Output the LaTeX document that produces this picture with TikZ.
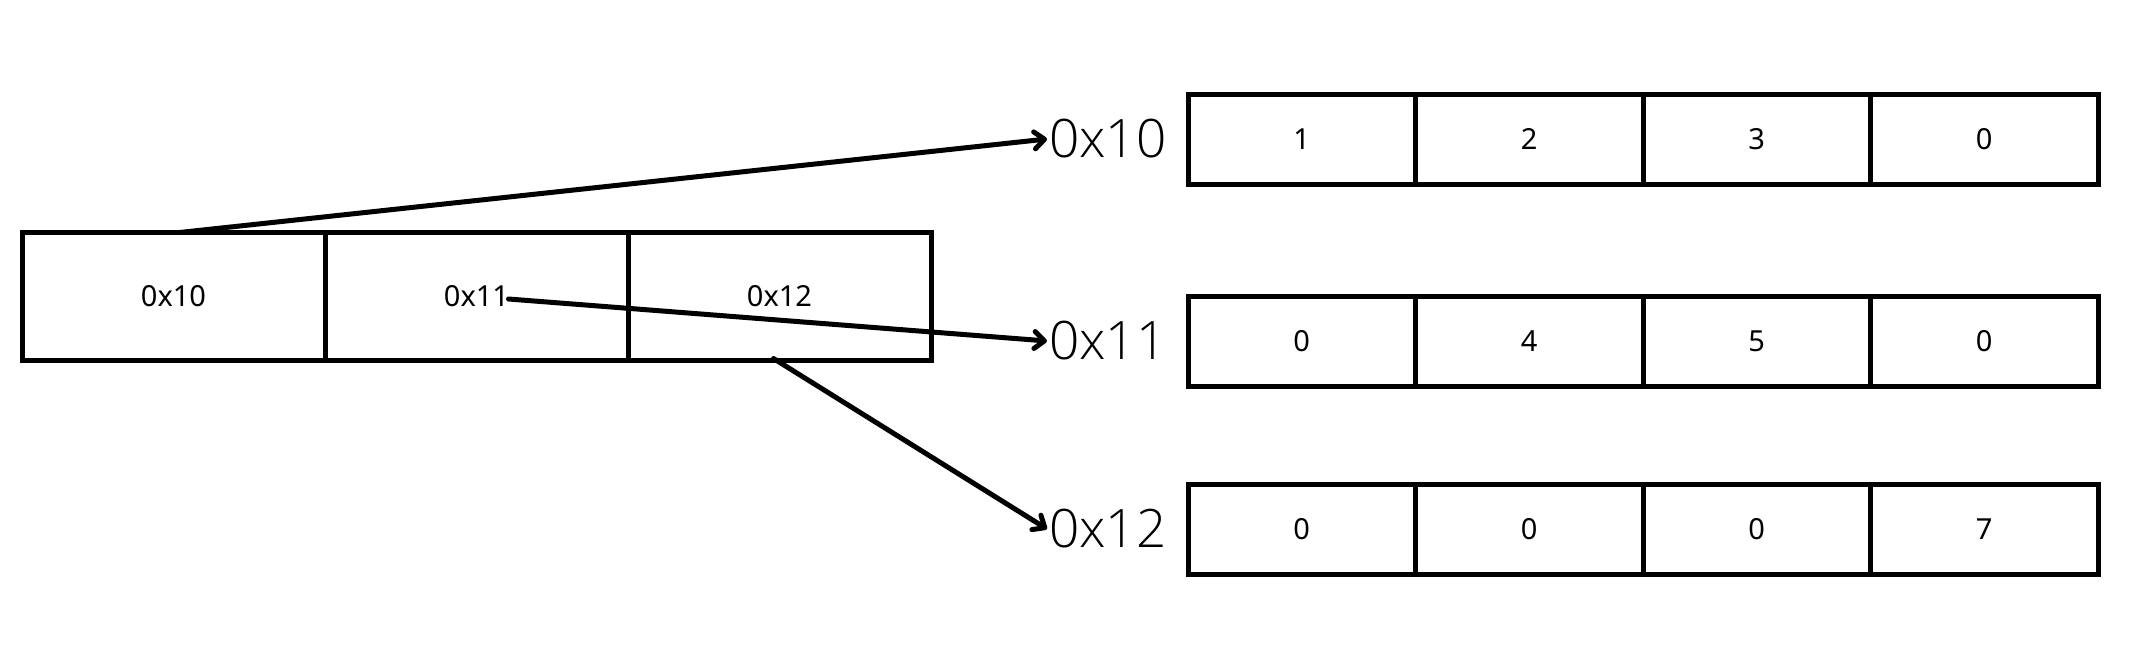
\documentclass[tikz,border=0pt]{standalone}
\usepackage{fontspec}
\setmainfont{Noto Sans}
\newfontfamily\lightfont[UprightFont={* Light}]{Open Sans}
\usetikzlibrary{arrows.meta}
\begin{document}
\begin{tikzpicture}[x=1pt,y=-1pt,
  cellL/.style={draw=black,line width=5pt,minimum width=303pt,minimum height=128pt,inner sep=0pt,font=\fontsize{29}{34}\selectfont},
  cellR/.style={draw=black,line width=5pt,minimum width=227.5pt,minimum height=90pt,inner sep=0pt,font=\fontsize{29}{34}\selectfont},
  addr/.style={anchor=west,inner sep=2pt,font=\lightfont\fontsize{53}{60}\selectfont},
  ptr/.style={line width=5pt,line cap=round,-{Straight Barb[length=10pt,width=17pt,line width=5pt,round]}}]
\useasboundingbox (0,0) rectangle (2148,667);
% left array
\node[cellL] (L1) at (173.5,296) {0x10};
\node[cellL] (L2) at (476.5,296) {0x11};
\node[cellL] (L3) at (779.5,296) {0x12};
% address labels
\node[addr] (T1) at (1047,139) {0x10};
\node[addr] (T2) at (1047,341) {0x11};
\node[addr] (T3) at (1047,529) {0x12};
% right arrays
\node[cellR] (A1) at (1301.75,139) {1};
\node[cellR] (A2) at (1529.25,139) {2};
\node[cellR] (A3) at (1756.75,139) {3};
\node[cellR] (A4) at (1984.25,139) {0};
\node[cellR] (B1) at (1301.75,341) {0};
\node[cellR] (B2) at (1529.25,341) {4};
\node[cellR] (B3) at (1756.75,341) {5};
\node[cellR] (B4) at (1984.25,341) {0};
\node[cellR] (C1) at (1301.75,529) {0};
\node[cellR] (C2) at (1529.25,529) {0};
\node[cellR] (C3) at (1756.75,529) {0};
\node[cellR] (C4) at (1984.25,529) {7};
% pointers
\draw[ptr] ([xshift=6pt,yshift=-3pt]L1.north) -- (T1.west);
\draw[ptr] ([xshift=32pt,yshift=-3pt]L2.center) -- (T2.west);
\draw[ptr] ([xshift=-6pt,yshift=4pt]L3.south) -- (T3.west);
\end{tikzpicture}
\end{document}
